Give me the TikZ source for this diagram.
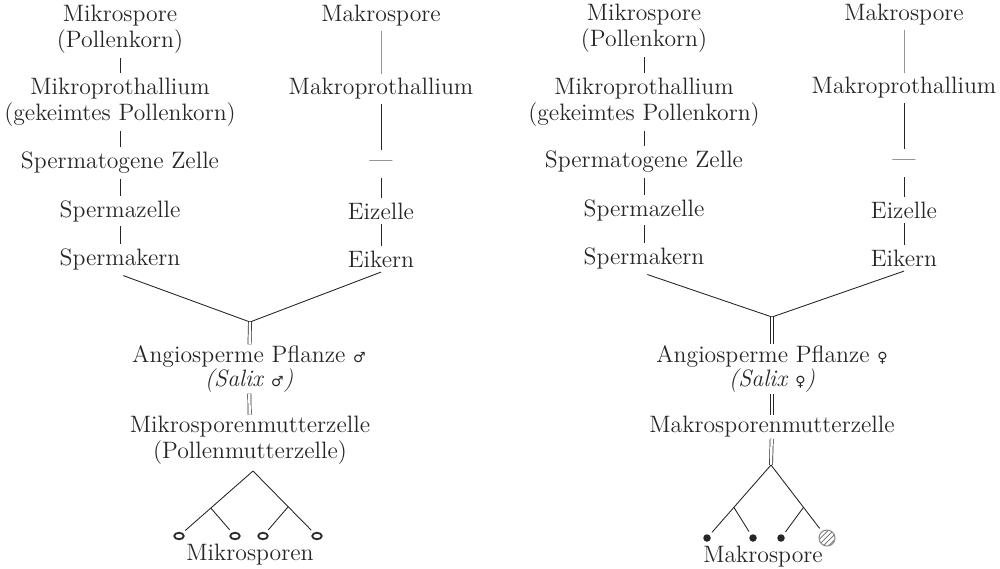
\documentclass[tikz,border=0pt]{standalone}
\usepackage{fontspec}
\newfontfamily\sexfont{DejaVu Sans}
\usetikzlibrary{shapes.geometric,patterns,calc}
\definecolor{Ink}{HTML}{262626}
\newcommand{\male}{{\sexfont\footnotesize ♂}}
\newcommand{\female}{{\sexfont\footnotesize ♀}}

\begin{document}
\begin{tikzpicture}[x=0.02cm,y=-0.02cm,
  lbl/.style={font=\fontsize{13.5}{14.8}\selectfont,text=Ink,align=center,inner sep=2.5pt},
  tight/.style={inner sep=0.5pt},
  stem/.style={Ink,line width=0.5pt},
  faint/.style={Ink!50,line width=0.4pt},
  dbl/.style={draw=Ink,line width=0.4pt,double,double distance=1.4pt},
  mic/.style={ellipse,draw=Ink,line width=1pt,minimum width=0.19cm,minimum height=0.13cm,inner sep=0pt},
  mac/.style={circle,fill=Ink,minimum size=0.15cm,inner sep=0pt},
  big/.style={circle,draw=Ink!55,line width=0.6pt,pattern=north east lines,pattern color=Ink!70,minimum size=0.32cm,inner sep=0pt}]
\useasboundingbox (0,0) rectangle (1000,568);

% male side
\node[lbl] (mksL) at (120,29) {Mikrospore\\(Pollenkorn)};
\node[lbl] (mkpL) at (120,102) {Mikroprothallium\\(gekeimtes Pollenkorn)};
\node[lbl] (spzL) at (120,163) {Spermatogene Zelle};
\node[lbl] (spcL) at (120,211) {Spermazelle};
\node[lbl] (spkL) at (120,259) {Spermakern};
\node[lbl] (masL) at (381,16) {Makrospore};
\node[lbl] (mapL) at (381,89) {Makroprothallium};
\node[lbl,minimum height=0.55cm] (madL) at (381,164) {---};
\node[lbl] (eizL) at (381,211) {Eizelle};
\node[lbl] (eikL) at (381,259) {Eikern};
\draw[stem] (mksL) -- (mkpL);
\draw[stem] (mkpL) -- (spzL);
\draw[stem] (spzL) -- (spcL);
\draw[stem] (spcL) -- (spkL);
\draw[faint] (masL) -- (mapL);
\draw[stem] (mapL) -- (madL);
\draw[stem] (madL) -- (eizL);
\draw[stem] (eizL) -- (eikL);

\coordinate (vL) at (250,322);
\draw[stem,shorten <=2pt] (spkL.south) -- (vL) -- (eikL.south);
\node[lbl,tight,font=\fontsize{13.5}{13.5}\selectfont] (angL) at (249,369) {Angiosperme Pflanze \male\\\textit{(Salix \male)}};
\node[lbl,tight] (mmzL) at (250,440) {Mikrosporenmutterzelle\\(Pollenmutterzelle)};
\draw[dbl] (vL) -- (angL);
\draw[dbl] (angL) -- (mmzL);

\coordinate (apL) at (253,471);
\node[mic] (s1) at (179,536) {};
\node[mic] (s2) at (235,536) {};
\node[mic] (s3) at (263,536) {};
\node[mic] (s4) at (317,536) {};
\draw[stem,shorten >=2pt] (apL) -- (s1);
\draw[stem,shorten >=2pt] (apL) -- (s4);
\draw[stem,shorten >=2pt] ($(apL)!0.57!(s1)$) -- (s2);
\draw[stem,shorten >=2pt] ($(apL)!0.55!(s4)$) -- (s3);
\node[lbl] (mspn) at (250,555) {Mikrosporen};

% female side
\node[lbl] (mksR) at (644,28) {Mikrospore\\(Pollenkorn)};
\node[lbl] (mkpR) at (644,102) {Mikroprothallium\\(gekeimtes Pollenkorn)};
\node[lbl] (spzR) at (644,162) {Spermatogene Zelle};
\node[lbl] (spcR) at (644,210) {Spermazelle};
\node[lbl] (spkR) at (644,258) {Spermakern};
\node[lbl] (masR) at (904,15) {Makrospore};
\node[lbl] (mapR) at (904,88) {Makroprothallium};
\node[lbl,minimum height=0.55cm] (madR) at (904,163) {---};
\node[lbl] (eizR) at (904,210) {Eizelle};
\node[lbl] (eikR) at (904,258) {Eikern};
\draw[stem] (mksR) -- (mkpR);
\draw[stem] (mkpR) -- (spzR);
\draw[stem] (spzR) -- (spcR);
\draw[stem] (spcR) -- (spkR);
\draw[faint] (masR) -- (mapR);
\draw[stem] (mapR) -- (madR);
\draw[stem] (madR) -- (eizR);
\draw[stem] (eizR) -- (eikR);

\coordinate (vR) at (772,317);
\draw[stem,shorten <=2pt] (spkR.south) -- (vR) -- (eikR.south);
\node[lbl,tight,font=\fontsize{13.5}{13.5}\selectfont] (angR) at (772,369) {Angiosperme Pflanze \female\\\textit{(Salix \female)}};
\node[lbl,tight] (mmzR) at (772,427) {Makrosporenmutterzelle};
\draw[dbl] (vR) -- (angR);
\draw[dbl] (angR) -- (mmzR);

\coordinate (apR) at (771,465);
\draw[dbl] (mmzR) -- (apR);
\node[mac] (m1) at (707,538) {};
\node[mac] (m2) at (753,538) {};
\node[mac] (m3) at (781,538) {};
\node[big] (m4) at (827,538) {};
\draw[stem,shorten >=2pt] (apR) -- (m1);
\draw[stem,shorten >=2pt] (apR) -- (m4);
\draw[stem,shorten >=2pt] ($(apR)!0.58!(m1)$) -- (m2);
\draw[stem,shorten >=2pt] ($(apR)!0.58!(m4)$) -- (m3);
\node[lbl] (mspr) at (763,557) {Makrospore};
\end{tikzpicture}
\end{document}
